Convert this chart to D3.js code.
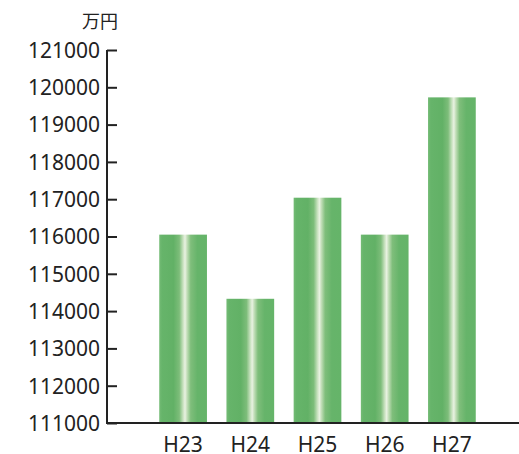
<!DOCTYPE html>
<html>
<head>
<meta charset="utf-8">
<script src="https://cdn.jsdelivr.net/npm/d3@7"></script>
<style>
  body { margin: 0; background: #fff; }
  text { font-family: "Noto Sans", "Noto Sans CJK JP", sans-serif; fill: #222; }
</style>
</head>
<body>
<script>
// data
var years = ["H23", "H24", "H25", "H26", "H27"];
var amounts = [116050, 114330, 117040, 116050, 119730];
var yTicks = [111000, 112000, 113000, 114000, 115000, 116000, 117000, 118000, 119000, 120000, 121000];
var unitLabel = "万円";

var width = 519, height = 454;

var svg = d3.select("body").append("svg")
  .attr("width", width)
  .attr("height", height);

var x = d3.scaleBand()
  .domain(years)
  .range([149.5, 485.5])
  .paddingInner(0.29)
  .paddingOuter(0.145);

var y = d3.scaleLinear()
  .domain([111000, 121000])
  .range([423, 50]);

// bar gradient (light stripe in the middle)
var grad = svg.append("defs").append("linearGradient")
  .attr("id", "barGrad")
  .attr("x1", "0%").attr("x2", "100%")
  .attr("y1", "0%").attr("y2", "0%");
[
  [0, "#74bb75"], [0.06, "#66b46a"], [0.3, "#62b166"], [0.42, "#7dbd7a"],
  [0.5, "#c9e2c0"], [0.54, "#e9f2e2"], [0.58, "#c4dfba"], [0.66, "#7fbe7b"],
  [0.8, "#66b46a"], [1, "#65b469"]
].forEach(function(s) {
  grad.append("stop").attr("offset", s[0]).attr("stop-color", s[1]);
});

svg.append("g").selectAll("rect")
  .data(years)
  .join("rect")
  .attr("x", function(d) { return x(d); })
  .attr("width", x.bandwidth())
  .attr("y", function(d, i) { return y(amounts[i]); })
  .attr("height", function(d, i) { return y(111000) - y(amounts[i]); })
  .attr("fill", "url(#barGrad)");

// y axis
var yAxis = svg.append("g")
  .attr("transform", "translate(107,0)")
  .call(d3.axisRight(y).tickValues(yTicks).tickSize(10).tickFormat(function(d) { return d; }));
yAxis.select(".domain").attr("stroke", "#222").attr("stroke-width", 2).attr("d", "M0,50V423");
yAxis.selectAll(".tick line").attr("stroke", "#222").attr("stroke-width", 2);
yAxis.selectAll(".tick text")
  .attr("x", -7)
  .attr("text-anchor", "end")
  .attr("font-size", 21)
  .attr("dy", "0.35em");

// x axis
svg.append("line")
  .attr("x1", 106).attr("x2", width)
  .attr("y1", 423).attr("y2", 423)
  .attr("stroke", "#222").attr("stroke-width", 2);

svg.append("g").selectAll("text")
  .data(years)
  .join("text")
  .attr("x", function(d) { return x(d) + x.bandwidth() / 2; })
  .attr("y", 452)
  .attr("text-anchor", "middle")
  .attr("font-size", 21)
  .text(function(d) { return d; });

svg.append("text")
  .attr("x", 118)
  .attr("y", 28)
  .attr("text-anchor", "end")
  .attr("font-size", 18)
  .attr("fill", "#333")
  .text(unitLabel);
</script>
</body>
</html>
